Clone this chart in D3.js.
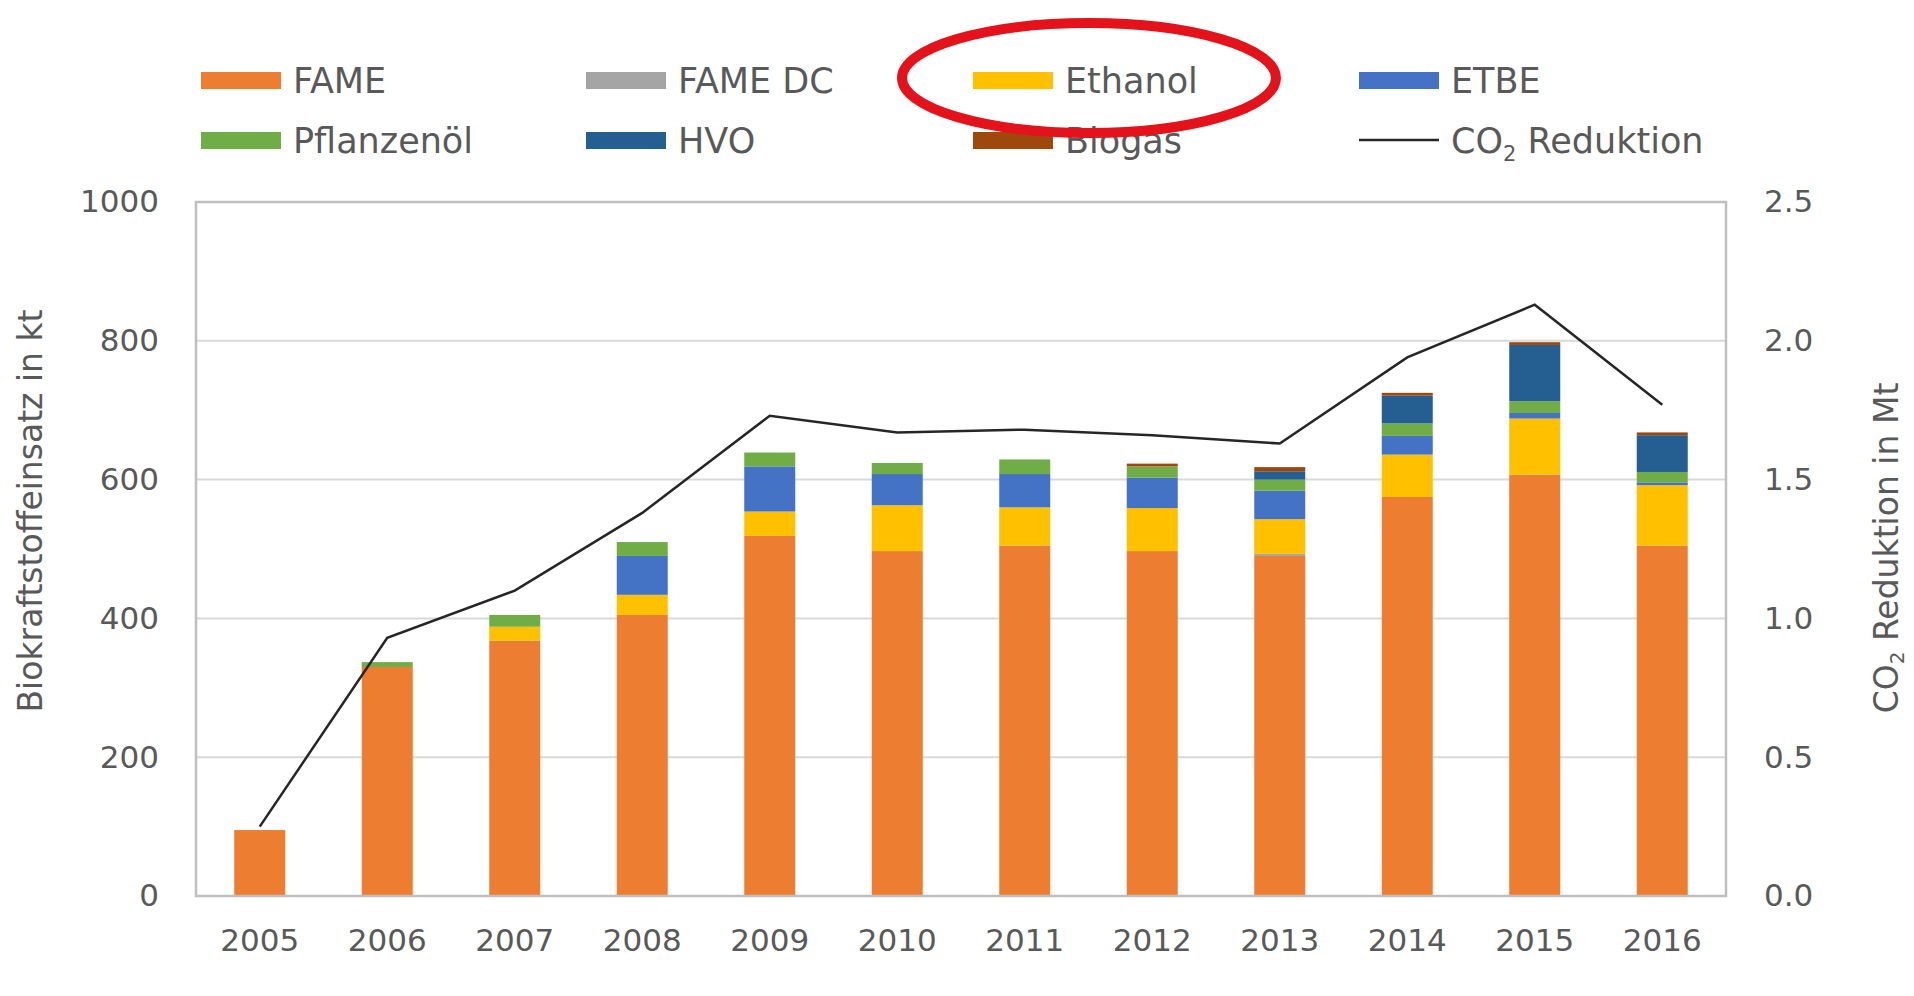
<html lang="de">
<head>
  <title>Biokraftstoffeinsatz</title>
  <meta charset="utf-8">
  <script src="https://d3js.org/d3.v7.min.js"></script>
  <style>
    body { margin: 0; background: #fff; }
    text { font-family: 'DejaVu Sans', sans-serif; fill: #595959; }
  </style>
</head>
<body>
  <svg id='canvas' width='1914' height='996'></svg>

<script>

// values (kt), stacked from bottom to top
var years = ['2005', '2006', '2007', '2008', '2009', '2010', '2011', '2012', '2013', '2014', '2015', '2016'];
var fame        = [95, 330, 368, 405, 519, 497, 505, 497, 490, 575, 607, 505];
var fame_dc     = [0, 0, 0, 0, 0, 0, 0, 0, 3, 0, 0, 0];
var ethanol     = [0, 0, 20, 29, 35, 66, 55, 62, 50, 61, 81, 87];
var etbe        = [0, 0, 0, 56, 65, 45, 48, 44, 41, 27, 8, 4];
var pflanzenoel = [0, 7, 17, 20, 20, 16, 21, 16, 16, 18, 17, 15];
var hvo         = [0, 0, 0, 0, 0, 0, 0, 0, 12, 40, 81, 53];
var biogas      = [0, 0, 0, 0, 0, 0, 0, 4, 6, 4, 4, 4];

// CO2 reduction (Mt), right axis
var co2 = [0.25, 0.93, 1.10, 1.38, 1.73, 1.67, 1.68, 1.66, 1.63, 1.94, 2.13, 1.77];

var series_names = ['FAME', 'FAME DC', 'Ethanol', 'ETBE', 'Pflanzenöl', 'HVO', 'Biogas'];
var series_values = [fame, fame_dc, ethanol, etbe, pflanzenoel, hvo, biogas];
var series_colors = ['#ED7D31', '#A5A5A5', '#FFC000', '#4472C4', '#70AD47', '#255E91', '#9E480E'];

var left_ticks = [0, 200, 400, 600, 800, 1000];
var right_ticks = [0, 0.5, 1.0, 1.5, 2.0, 2.5];

var margin = { left: 196, right: 1726, top: 202, bottom: 896 };
var svg = d3.select('#canvas');

/*******************************************************************************/
// scales

var xScale = d3.scaleBand().domain(years).range([margin.left, margin.right]).paddingInner(0.6).paddingOuter(0.3);
var yScale = d3.scaleLinear().domain([0, 1000]).range([margin.bottom, margin.top]);
var y2Scale = d3.scaleLinear().domain([0, 2.5]).range([margin.bottom, margin.top]);

/*******************************************************************************/
// grid

svg.append('g').selectAll('line').data(left_ticks.slice(1, -1)).enter()
  .append('line')
  .attr('x1', margin.left).attr('x2', margin.right)
  .attr('y1', function(d){ return yScale(d) }).attr('y2', function(d){ return yScale(d) })
  .style('stroke', '#D9D9D9').style('stroke-width', 2);

/*******************************************************************************/
// stacked bars

var rows = years.map(function(y, i){
  var r = { year: y };
  series_names.forEach(function(n, j){ r[n] = series_values[j][i]; });
  return r;
});

var stack = d3.stack().keys(series_names)(rows);

svg.append('g').selectAll('g').data(stack).enter()
  .append('g').attr('fill', function(d, i){ return series_colors[i] })
  .selectAll('rect').data(function(d){ return d }).enter()
  .append('rect')
  .attr('x', function(d){ return xScale(d.data.year) })
  .attr('width', xScale.bandwidth())
  .attr('y', function(d){ return yScale(d[1]) })
  .attr('height', function(d){ return yScale(d[0]) - yScale(d[1]) });

svg.append('rect')
  .attr('x', margin.left).attr('y', margin.top)
  .attr('width', margin.right - margin.left).attr('height', margin.bottom - margin.top)
  .style('fill', 'none').style('stroke', '#BFBFBF').style('stroke-width', 2.5);

/*******************************************************************************/
// CO2 line

var line = d3.line()
  .x(function(d, i){ return xScale(years[i]) + xScale.bandwidth()/2 })
  .y(function(d){ return y2Scale(d) });

svg.append('path').datum(co2).attr('d', line)
  .style('fill', 'none').style('stroke', '#262626').style('stroke-width', 2.5);

/*******************************************************************************/
// axes

var left_axis = svg.append('g').attr('transform', 'translate(' +margin.left+ ',0)')
  .call(d3.axisLeft(yScale).tickValues(left_ticks).tickSize(0).tickPadding(37).tickFormat(d3.format('d')));

var right_axis = svg.append('g').attr('transform', 'translate(' +margin.right+ ',0)')
  .call(d3.axisRight(y2Scale).tickValues(right_ticks).tickSize(0).tickPadding(38).tickFormat(d3.format('.1f')));

var bottom_axis = svg.append('g').attr('transform', 'translate(0,' +margin.bottom+ ')')
  .call(d3.axisBottom(xScale).tickSize(0).tickPadding(33));

[left_axis, right_axis, bottom_axis].forEach(function(a){
  a.select('.domain').remove();
  a.selectAll('text').style('font-size', '31px').style('fill', '#595959').style('font-family', "'DejaVu Sans', sans-serif");
});

svg.append('text')
  .attr('transform', 'translate(42,511) rotate(-90)')
  .attr('text-anchor', 'middle')
  .style('font-size', '33px')
  .text('Biokraftstoffeinsatz in kt');

var t2 = svg.append('text')
  .attr('transform', 'translate(1898,548) rotate(-90)')
  .attr('text-anchor', 'middle')
  .style('font-size', '33px');
t2.append('tspan').text('CO');
t2.append('tspan').attr('dy', 6).style('font-size', '20px').text('2');
t2.append('tspan').attr('dy', -6).text(' Reduktion in Mt');

/*******************************************************************************/
// legend

var legend_cols = [201, 586, 973, 1359];
var legend_rows = [80, 140];

series_names.forEach(function(n, i){
  var lx = legend_cols[i % 4], ly = legend_rows[Math.floor(i / 4)];
  svg.append('rect').attr('x', lx).attr('y', ly - 8).attr('width', 80).attr('height', 17).style('fill', series_colors[i]);
  svg.append('text').attr('x', lx + 92).attr('y', ly).attr('dy', '0.36em').style('font-size', '35px').text(n);
});

svg.append('line').attr('x1', legend_cols[3]).attr('x2', legend_cols[3] + 80)
  .attr('y1', legend_rows[1]).attr('y2', legend_rows[1])
  .style('stroke', '#262626').style('stroke-width', 2.5);

var lt = svg.append('text').attr('x', legend_cols[3] + 92).attr('y', legend_rows[1]).attr('dy', '0.36em').style('font-size', '35px');
lt.append('tspan').text('CO');
lt.append('tspan').attr('dy', 8).style('font-size', '21px').text('2');
lt.append('tspan').attr('dy', -8).text(' Reduktion');

// red marking round the Ethanol entry
svg.append('ellipse')
  .attr('cx', 1089).attr('cy', 78).attr('rx', 187).attr('ry', 55)
  .style('fill', 'none').style('stroke', '#E3121B').style('stroke-width', 10);

</script>
</body>
</html>
